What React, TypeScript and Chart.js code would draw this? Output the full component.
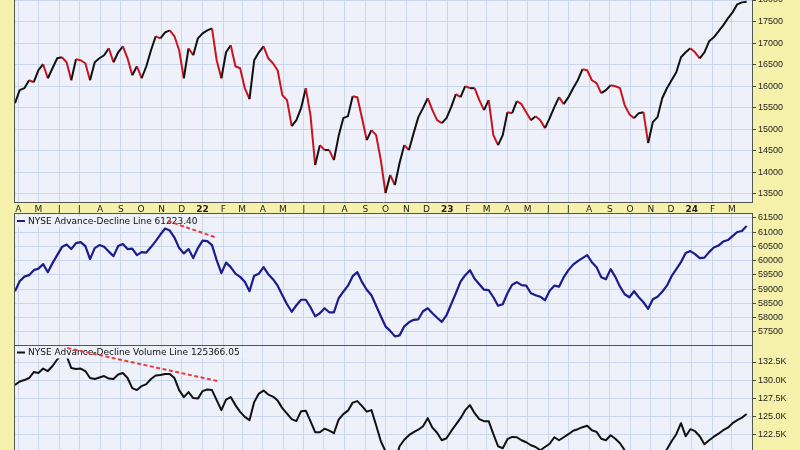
import React, { useEffect, useRef } from "react";
import { Chart, registerables } from "chart.js";

Chart.register(...registerables);

// ---------- data ----------
const START_DATE = "2021-03-27"; // first weekly close
const AXIS_START = "2021-03-27";
const AXIS_END = "2024-03-31";
const FIRST_MONTH = "2021-04";
const LAST_MONTH = "2024-03";
const MONTH_LETTERS = ["J", "F", "M", "A", "M", "J", "J", "A", "S", "O", "N", "D"];

// NYSE Composite, weekly
const nyseComposite = [
  15607, 15908, 15954, 16139, 16093, 16371, 16510, 16185, 16417, 16648,
  16671, 16556, 16139, 16625, 16602, 16533, 16139, 16556, 16648, 16718,
  16880, 16556, 16787, 16926, 16648, 16255, 16463, 16185, 16463, 16834,
  17158, 17111, 17250, 17297, 17158, 16834, 16185, 16880, 16718, 17111,
  17227, 17297, 17343, 16602, 16185, 16787, 16949, 16463, 16417, 15954,
  15699, 16602, 16787, 16926, 16648, 16533, 16371, 15792, 15676, 15074,
  15213, 15491, 15954, 15329, 14171, 14634, 14519, 14519, 14287, 14843,
  15259, 15306, 15769, 15746, 15259, 14750, 14982, 14866, 14287, 13523,
  13940, 13708, 14218, 14634, 14519, 14912, 15283, 15491, 15722, 15445,
  15213, 15144, 15259, 15514, 15815, 15746, 16000, 15954, 15954, 15676,
  15445, 15676, 14866, 14634, 14866, 15398, 15375, 15653, 15584, 15398,
  15213, 15306, 15213, 15028, 15259, 15514, 15746, 15584, 15746, 15954,
  16139, 16394, 16371, 16139, 16070, 15838, 15908, 16023, 16000, 15954,
  15560, 15352, 15259, 15375, 15398, 14681, 15167, 15283, 15722, 15954,
  16139, 16324, 16671, 16787, 16880, 16787, 16648, 16787, 17042, 17135,
  17273, 17412, 17574, 17713, 17899, 17945, 17960,
];

// NYSE Advance-Decline Line, weekly
const adLine = [
  58930, 59282, 59441, 59494, 59670, 59722, 59881, 59599, 59916, 60198,
  60479, 60567, 60409, 60620, 60655, 60514, 60057, 60444, 60550, 60490,
  60321, 60162, 60514, 60585, 60409, 60426, 60198, 60303, 60286, 60479,
  60690, 60919, 61130, 61060, 60814, 60444, 60257, 60409, 60092, 60444,
  60708, 60690, 60550, 60022, 59564, 59934, 59775, 59546, 59434, 59265,
  58930, 59476, 59546, 59775, 59529, 59353, 59124, 58790, 58473, 58209,
  58438, 58631, 58631, 58367, 58050, 58156, 58332, 58191, 58191, 58684,
  58913, 59124, 59458, 59599, 59247, 58983, 58790, 58420, 58050, 57698,
  57540, 57346, 57381, 57698, 57839, 57927, 57945, 58226, 58332, 58156,
  57998, 57857, 58086, 58473, 58860, 59265, 59494, 59670, 59370, 59177,
  58983, 58966, 58719, 58420, 58473, 58860, 59159, 59247, 59142, 59124,
  58860, 58790, 58737, 58614, 58948, 59124, 59089, 59423, 59670, 59863,
  59986, 60092, 60198, 59951, 59775, 59423, 59353, 59705, 59434, 59089,
  58825, 58719, 58930, 58719, 58543, 58314, 58649, 58737, 58913, 59124,
  59458, 59705, 59951, 60268, 60338, 60233, 60092, 60110, 60303, 60462,
  60532, 60673, 60726, 60866, 61007, 61042, 61223,
];

// NYSE Advance-Decline Volume Line, weekly
const adVolumeLine = [
  129340, 129821, 130027, 130302, 131126, 130989, 131607, 131263, 131950, 132844,
  133599, 133324, 131676, 131538, 131607, 131263, 130302, 130164, 130370, 130576,
  130233, 130164, 130782, 130989, 130302, 128928, 128653, 129202, 129477, 130164,
  130645, 130714, 130851, 130851, 130302, 128653, 127691, 128378, 127554, 127485,
  128515, 128722, 128653, 127279, 125905, 127348, 127691, 126592, 125671, 124984,
  124531, 127004, 128172, 128584, 128035, 127760, 127210, 126180, 125424, 124668,
  124393, 125767, 125836, 124393, 122882, 122882, 123363, 123088, 122744, 124600,
  125355, 125836, 126935, 127141, 126454, 125699, 125905, 123844, 121645, 120271,
  119310, 118760, 120958, 121852, 122470, 122882, 123226, 123706, 124806, 123501,
  122813, 121783, 122058, 123019, 123913, 124806, 125905, 126592, 125493, 124668,
  124393, 124393, 122607, 120958, 120683, 121920, 122236, 122195, 121783, 121508,
  121096, 120862, 120409, 120862, 121302, 122195, 121783, 122195, 122607, 123088,
  123294, 123569, 123775, 123157, 122923, 121989, 121783, 122470, 121989, 121371,
  120409, 119584, 119035, 118760, 118897, 118210, 118760, 119035, 119584, 120546,
  121645, 122607, 124119, 122333, 123294, 123019, 122333, 121233, 121783, 122264,
  122676, 123157, 123501, 124119, 124531, 124875, 125366,
];

// red dashed divergence lines
const adTrendDates = ["2021-11-10", "2022-01-19"];
const adTrendValues = [61395, 60833];
const advTrendDates = ["2021-06-13", "2022-01-23"];
const advTrendValues = [134418, 129897];

// axis ticks & ranges
const topTicks = [13500, 14000, 14500, 15000, 15500, 16000, 16500, 17000, 17500, 18000];
const topRange = [13291, 18000];
const adTicks = [57500, 58000, 58500, 59000, 59500, 60000, 60500, 61000, 61500];
const adRange = [57008, 61675];
const advTicks = [122500, 125000, 127500, 130000, 132500];
const advRange = [120444, 134692];

const AD_LABEL = "NYSE Advance-Decline Line 61223.40";
const ADV_LABEL = "NYSE Advance-Decline Volume Line 125366.05";

// ---------- styles ----------
const YELLOW = "#f5f1ab";
const PLOT_BG = "#eef0fa";
const GRID = "#cad7ec";
const BORDER = "#555555";
const RED = "#c8141e";
const BLACK = "#111111";
const NAVY = "#1c1c8a";
const DASH_RED = "#e3403c";
const DAY = 86400000;

const toMs = (s: string) => {
  const p = s.split("-").map(Number);
  return Date.UTC(p[0], p[1] - 1, p[2] || 1);
};

const X_MIN = toMs(AXIS_START);
const X_MAX = toMs(AXIS_END);

const monthTicks: number[] = [];
const monthLabels: string[] = [];
{
  let [y, m] = FIRST_MONTH.split("-").map(Number);
  const [ly, lm] = LAST_MONTH.split("-").map(Number);
  while (y < ly || (y === ly && m <= lm)) {
    monthTicks.push(Date.UTC(y, m - 1, 1));
    monthLabels.push(m === 1 ? String(y).slice(2) : MONTH_LETTERS[m - 1]);
    m++;
    if (m > 12) { m = 1; y++; }
  }
}

const weekly = (vals: number[]) =>
  vals.map((v, i) => ({ x: toMs(START_DATE) + i * 7 * DAY, y: v }));
const pairs = (dates: string[], vals: number[]) =>
  dates.map((d, i) => ({ x: toMs(d), y: vals[i] }));

type PanelCfg = {
  top: number;
  height: number;
  range: number[];
  ticks: number[];
  fmt: (v: number) => string;
  showX: boolean;
  datasets: any[];
  edges: { top: boolean; bottom: boolean };
  legend?: { text: string; color: string; dy: number };
};

function buildConfig(cfg: PanelCfg): any {
  const bgPlugin = {
    id: "plotBg",
    beforeDraw(chart: any) {
      const { ctx, chartArea: a } = chart;
      ctx.save();
      ctx.fillStyle = PLOT_BG;
      ctx.fillRect(a.left, a.top, a.right - a.left, a.bottom - a.top);
      ctx.restore();
    },
  };
  const borderPlugin = {
    id: "plotBorder",
    afterDraw(chart: any) {
      const { ctx, chartArea: a } = chart;
      ctx.save();
      ctx.strokeStyle = BORDER;
      ctx.lineWidth = 1;
      ctx.beginPath();
      ctx.moveTo(a.left - 0.5, a.top);
      ctx.lineTo(a.left - 0.5, a.bottom);
      ctx.moveTo(a.right + 0.5, a.top);
      ctx.lineTo(a.right + 0.5, a.bottom);
      if (cfg.edges.top) {
        ctx.moveTo(a.left - 1, a.top + 0.5);
        ctx.lineTo(a.right + 1, a.top + 0.5);
      }
      if (cfg.edges.bottom) {
        ctx.moveTo(a.left - 1, a.bottom - 0.5);
        ctx.lineTo(a.right + 1, a.bottom - 0.5);
      }
      ctx.stroke();
      ctx.restore();
    },
  };
  const legendPlugin = {
    id: "panelLegend",
    afterDatasetDraw(chart: any, args: any) {
      if (!cfg.legend || args.index !== 0) return;
      const { ctx, chartArea: a } = chart;
      const x0 = a.left + 2;
      const yMid = a.top + cfg.legend.dy;
      ctx.save();
      ctx.font = '9px "DejaVu Sans"';
      const w = ctx.measureText(cfg.legend.text).width;
      ctx.fillStyle = PLOT_BG;
      ctx.fillRect(x0, yMid - 5, 12 + w + 2, 11);
      ctx.strokeStyle = cfg.legend.color;
      ctx.lineWidth = 2;
      ctx.beginPath();
      ctx.moveTo(x0, yMid);
      ctx.lineTo(x0 + 8, yMid);
      ctx.stroke();
      ctx.fillStyle = "#111";
      ctx.textBaseline = "middle";
      ctx.fillText(cfg.legend.text, x0 + 11, yMid + 0.5);
      ctx.restore();
    },
  };

  return {
    type: "line",
    data: { datasets: cfg.datasets },
    options: {
      animation: false,
      responsive: false,
      devicePixelRatio: 1,
      events: [],
      layout: { padding: { left: 15, right: 0, top: 0, bottom: 0 } },
      plugins: { legend: { display: false }, tooltip: { enabled: false } },
      elements: { point: { radius: 0 }, line: { tension: 0 } },
      scales: {
        x: {
          type: "linear",
          min: X_MIN,
          max: X_MAX,
          afterBuildTicks: (s: any) => {
            s.ticks = monthTicks.map((v) => ({ value: v }));
          },
          afterFit: (s: any) => {
            s.height = cfg.showX ? 10 : 0;
            s.paddingLeft = 0;
            s.paddingRight = 0;
          },
          ticks: {
            display: cfg.showX,
            autoSkip: false,
            maxRotation: 0,
            padding: 1,
            color: "#222",
            font: (c: any) => ({
              family: '"DejaVu Sans"',
              size: 9,
              weight: (monthLabels[c.index] || "").length === 2 ? "bold" : "normal",
            }),
            callback: (_v: any, i: number) => monthLabels[i],
          },
          grid: { color: GRID, drawTicks: false, lineWidth: 1 },
          border: { display: false },
        },
        y: {
          position: "right",
          min: cfg.range[0],
          max: cfg.range[1],
          afterBuildTicks: (s: any) => {
            s.ticks = cfg.ticks.map((v) => ({ value: v }));
          },
          afterFit: (s: any) => {
            s.width = 48;
            s.paddingTop = 0;
            s.paddingBottom = 0;
          },
          ticks: {
            color: "#222",
            padding: 2,
            crossAlign: "near",
            font: { family: '"Liberation Sans", Arial', size: 9 },
            callback: (v: any) => cfg.fmt(Number(v)),
          },
          grid: { color: GRID, tickColor: "#444", tickLength: 4, lineWidth: 1 },
          border: { display: false },
        },
      },
    },
    plugins: [bgPlugin, borderPlugin, legendPlugin],
  };
}

function Panel({ cfg }: { cfg: PanelCfg }) {
  const ref = useRef<HTMLCanvasElement | null>(null);
  useEffect(() => {
    if (!ref.current) return;
    const chart = new Chart(ref.current, buildConfig(cfg));
    return () => chart.destroy();
  }, []);
  return (
    <div style={{ position: "absolute", left: 0, top: cfg.top, width: 800, height: cfg.height }}>
      <canvas ref={ref} width={800} height={cfg.height} style={{ display: "block" }} />
    </div>
  );
}

const topPanel: PanelCfg = {
  top: 0,
  height: 213,
  range: topRange,
  ticks: topTicks,
  fmt: (v) => String(v),
  showX: true,
  edges: { top: false, bottom: true },
  datasets: [
    {
      data: weekly(nyseComposite),
      borderColor: BLACK,
      borderWidth: 2,
      borderJoinStyle: "round",
      segment: {
        borderColor: (c: any) => (c.p1.parsed.y < c.p0.parsed.y ? RED : BLACK),
      },
      order: 2,
    },
  ],
};

const adPanel: PanelCfg = {
  top: 213,
  height: 133,
  range: adRange,
  ticks: adTicks,
  fmt: (v) => String(v),
  showX: false,
  edges: { top: true, bottom: true },
  legend: { text: AD_LABEL, color: NAVY, dy: 8 },
  datasets: [
    { data: weekly(adLine), borderColor: NAVY, borderWidth: 2.2, borderJoinStyle: "round", order: 2 },
    { data: pairs(adTrendDates, adTrendValues), borderColor: DASH_RED, borderWidth: 2, borderDash: [4, 2.5], order: 1 },
  ],
};

const advPanel: PanelCfg = {
  top: 346,
  height: 104,
  range: advRange,
  ticks: advTicks,
  fmt: (v) => (v / 1000).toFixed(1) + "K",
  showX: false,
  edges: { top: false, bottom: false },
  legend: { text: ADV_LABEL, color: BLACK, dy: 6.5 },
  datasets: [
    { data: weekly(adVolumeLine), borderColor: BLACK, borderWidth: 2, borderJoinStyle: "round", order: 2 },
    { data: pairs(advTrendDates, advTrendValues), borderColor: DASH_RED, borderWidth: 2, borderDash: [4, 2.5], order: 1 },
  ],
};

export default function App() {
  return (
    <div
      style={{
        position: "fixed",
        left: 0,
        top: 0,
        width: 800,
        height: 450,
        overflow: "hidden",
        background: YELLOW,
      }}
    >
      <Panel cfg={topPanel} />
      <Panel cfg={adPanel} />
      <Panel cfg={advPanel} />
    </div>
  );
}
